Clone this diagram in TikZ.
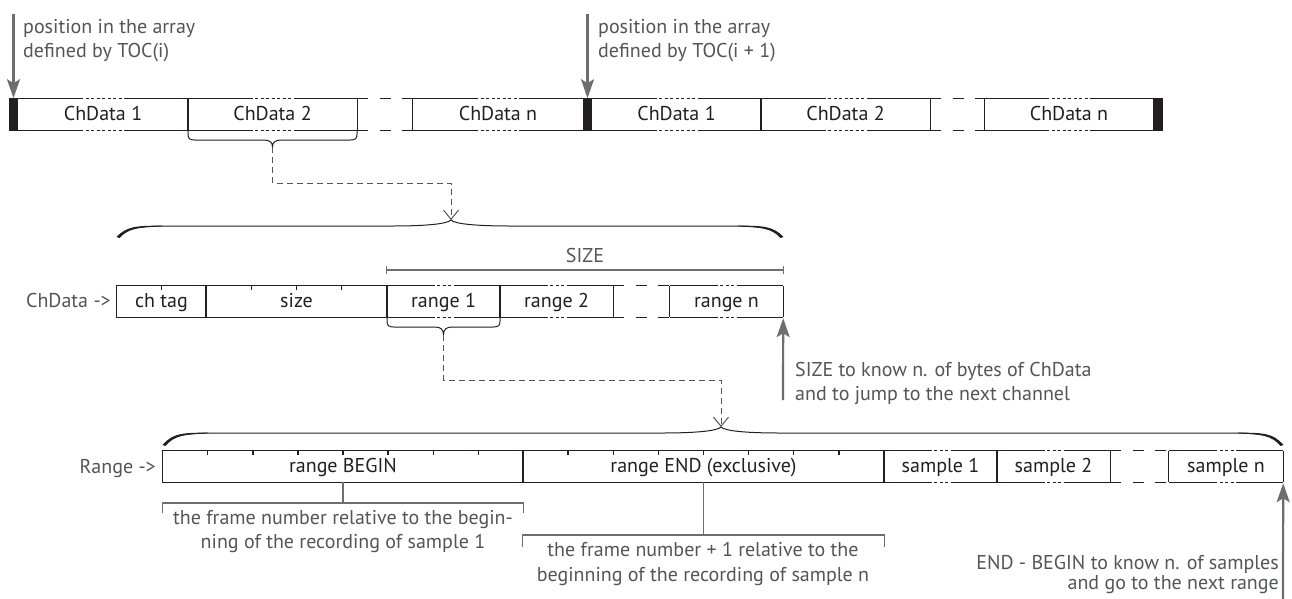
\documentclass[tikz,border=0pt]{standalone}
\usepackage{fontspec}
\setmainfont{PT Sans}
\usetikzlibrary{arrows.meta,calc}
\definecolor{ink}{HTML}{231F20}
\definecolor{txtgray}{HTML}{545557}
\definecolor{lngray}{HTML}{6D6E71}

\newcommand\dcell[2]{%
  \draw[border] (#1.north west) -- ([xshift=-#2pt]#1.north) ([xshift=#2pt]#1.north) -- (#1.north east)
    (#1.south west) -- ([xshift=-#2pt]#1.south) ([xshift=#2pt]#1.south) -- (#1.south east)
    (#1.north west) -- (#1.south west) (#1.north east) -- (#1.south east);
  \draw[border,dotseg] ([xshift=-#2pt]#1.north) -- ([xshift=#2pt]#1.north)
    ([xshift=-#2pt]#1.south) -- ([xshift=#2pt]#1.south);}
\newcommand\scell[1]{\draw[border] (#1.north west) rectangle (#1.south east);}
\newcommand\smallbrace[5]{%
  \draw[brace] (#1,#3) -- (#1,{#4-6}) .. controls (#1,{#4-1.5}) and ({#1+1.5},#4) .. ({#1+7},#4)
   -- ({(#1+#2)/2-9},#4) .. controls ({(#1+#2)/2-3},#4) and ({(#1+#2)/2},{#4+2}) .. ({(#1+#2)/2},#5)
   .. controls ({(#1+#2)/2},{#4+2}) and ({(#1+#2)/2+3},#4) .. ({(#1+#2)/2+9},#4)
   -- ({#2-7},#4) .. controls ({#2-1.5},#4) and (#2,{#4-1.5}) .. (#2,{#4-6}) -- (#2,#3);}
\newcommand\bigbrace[6]{%
  \draw[brace] (#1,#5) .. controls ({#1+10},{#4+1}) and ({#1+25},#4) .. ({#1+60},#4)
   -- ({#3-60},#4) .. controls ({#3-25},#4) and ({#3-4},{#4-2}) .. (#3,#6)
   .. controls ({#3+4},{#4-2}) and ({#3+25},#4) .. ({#3+60},#4)
   -- ({#2-60},#4) .. controls ({#2-25},#4) and ({#2-10},{#4+1}) .. (#2,#5);
  \fill[ink] (#1,#5) .. controls ({#1+9},{#4+0.2}) and ({#1+20},{#4-0.4}) .. ({#1+45},{#4-0.3})
   -- ({#1+45},{#4+0.4}) .. controls ({#1+22},{#4+1}) and ({#1+11},{#4+2.5}) .. ({#1+2.5},{#5+1}) -- cycle;
  \fill[ink] (#2,#5) .. controls ({#2-9},{#4+0.2}) and ({#2-20},{#4-0.4}) .. ({#2-45},{#4-0.3})
   -- ({#2-45},{#4+0.4}) .. controls ({#2-22},{#4+1}) and ({#2-11},{#4+2.5}) .. ({#2-2.5},{#5+1}) -- cycle;}

\begin{document}
\begin{tikzpicture}[x=1pt,y=-1pt,
  cell/.style={rectangle, inner sep=0pt, minimum height=31pt, text=ink,
    font=\fontsize{20}{24}\selectfont, text height=15pt, text depth=3pt},
  border/.style={draw=ink, line width=1.2pt},
  dotseg/.style={dash pattern=on 3pt off 2.5pt},
  gapdash/.style={dash pattern=on 11pt off 11.5pt},
  blk/.style={fill=ink, inner sep=0pt, minimum width=9pt, minimum height=32.2pt},
  lbl/.style={text=txtgray, inner sep=0pt, font=\fontsize{20}{24}\selectfont},
  garrow/.style={draw=lngray, line width=2.2pt, -{Stealth[length=19pt,width=13pt,inset=4pt]}},
  conn/.style={draw=txtgray, line width=1pt, dash pattern=on 6pt off 4pt, -{Straight Barb[length=9pt,width=15pt]}},
  brace/.style={draw=ink, line width=1pt},
  bracket/.style={draw=lngray, line width=1.2pt},
  tick/.style={draw=ink, line width=1.2pt},
]
\fill[white] (0,0) rectangle (1292,598);
\useasboundingbox (0,0) rectangle (1292,598);

% ---------- top row ----------
\node[blk] (k1) at (13.5,114.5) {};
\node[cell, minimum width=170pt] (a1) at (103,114.5) {ChData 1};
\node[cell, minimum width=169pt] (a2) at (272.5,114.5) {ChData 2};
\node[cell, minimum width=170pt] (an) at (498,114.5) {ChData n};
\node[blk] (k2) at (587.5,114.5) {};
\node[cell, minimum width=169pt] (b1) at (676.5,114.5) {ChData 1};
\node[cell, minimum width=169pt] (b2) at (845.5,114.5) {ChData 2};
\node[cell, minimum width=168pt] (bn) at (1069,114.5) {ChData n};
\node[blk, minimum width=10pt] (k3) at (1158,114.5) {};
\dcell{a1}{23}\dcell{a2}{23}\dcell{an}{23}\dcell{b1}{23}\dcell{b2}{23}\dcell{bn}{23}
\draw[border,gapdash] (a2.north east) -- (an.north west) (a2.south east) -- (an.south west);
\draw[border,gapdash] (b2.north east) -- (bn.north west) (b2.south east) -- (bn.south west);

\coordinate (p1) at (13.5,14);
\coordinate (p2) at (587.5,14);
\draw[garrow] (p1) -- (k1.north);
\draw[garrow] (p2) -- (k2.north);
\node[lbl, anchor=base west] (t1a) at (23,33) {position in the array};
\node[lbl, anchor=base west] (t1b) at (23,57) {defined by TOC(i)};
\node[lbl, anchor=base west] (t2a) at (598,33) {position in the array};
\node[lbl, anchor=base west] (t2b) at (598,57) {defined by TOC(i + 1)};

% ---------- brace + connector 1 ----------
\smallbrace{188}{357}{130}{140}{147}
\coordinate (st1) at (272.5,147);
\bigbrace{117}{783}{451}{226}{237}{220}
\coordinate (bt1) at (451,220);
\coordinate (m1) at (451,183);
\draw[conn] (st1) |- (m1) -- (bt1);

% ---------- middle row ----------
\node[lbl, anchor=base east] (lc) at (111,307) {ChData ->};
\node[cell, minimum width=89pt] (ct) at (161.5,301.5) {ch tag};
\node[cell, minimum width=181pt] (sz) at (296.5,301.5) {size};
\node[cell, minimum width=113pt] (r1) at (443.5,301.5) {range 1};
\node[cell, minimum width=113pt] (r2) at (556.5,301.5) {range 2};
\node[cell, minimum width=113pt] (rn) at (726.5,301.5) {range n};
\scell{ct}\scell{sz}
\dcell{r1}{12}\dcell{r2}{12}\dcell{rn}{12}
\draw[border,gapdash] (r2.north east) -- (rn.north west) (r2.south east) -- (rn.south west);
\draw[tick] (ct.north) -- ++(0,4);
\foreach \i in {1,2,3} \draw[tick] ($(sz.north west)!\i/4!(sz.north east)$) -- ++(0,4);

% SIZE dimension
\coordinate (szy) at (0,270);
\draw[bracket] (r1.north west |- szy) -- (rn.north east |- szy);
\draw[bracket] (r1.north west |- szy) ++(0,-4) -- ++(0,8);
\draw[bracket] (rn.north east |- szy) ++(0,-4) -- ++(0,8);
\node[lbl, anchor=base] (szl) at (585,262) {SIZE};

% up arrow 1
\coordinate (u1) at (783,400);
\draw[garrow, shorten >=1pt] (u1) -- (rn.south east);
\node[lbl, anchor=base west] (u1a) at (795,376) {SIZE to know n. of bytes of ChData};
\node[lbl, anchor=base west] (u1b) at (795,400) {and to jump to the next channel};

% ---------- brace + connector 2 ----------
\smallbrace{387}{500}{317}{327}{335}
\coordinate (st2) at (443.5,335);
\bigbrace{163}{1283}{721}{433}{445}{427}
\coordinate (bt2) at (721,427);
\coordinate (m2) at (721,380);
\draw[conn] (st2) |- (m2) -- (bt2);

% ---------- bottom row ----------
\node[lbl, anchor=base east] (lr) at (156,473) {Range ->};
\node[cell, minimum width=360pt] (rb) at (343,466.5) {range BEGIN};
\node[cell, minimum width=361pt] (re) at (703.5,466.5) {range END (exclusive)};
\node[cell, minimum width=113pt] (s1) at (940.5,466.5) {sample 1};
\node[cell, minimum width=113pt] (s2) at (1053.5,466.5) {sample 2};
\node[cell, minimum width=114pt] (sn) at (1226,466.5) {sample n};
\scell{rb}\scell{re}
\dcell{s1}{12}\dcell{s2}{12}\dcell{sn}{12}
\draw[border,gapdash] (s2.north east) -- (sn.north west) (s2.south east) -- (sn.south west);
\foreach \i in {1,...,7} {
  \draw[tick] ($(rb.north west)!\i/8!(rb.north east)$) -- ++(0,4);
  \draw[tick] ($(re.north west)!\i/8!(re.north east)$) -- ++(0,4);}

% brackets
\coordinate (by) at (0,503);
\draw[bracket] (rb.south) -- (rb.south |- by);
\draw[bracket] (rb.south west |- by) ++(0,10) -- ++(0,-10) -- (rb.south east |- by) -- ++(0,10);
\node[lbl, anchor=base] (bg1) at (343,524) {the frame number relative to the begin-};
\node[lbl, anchor=base] (bg2) at (343,548) {ning of the recording of sample 1};
\coordinate (ey) at (0,535);
\draw[bracket] (re.south) -- (re.south |- ey);
\draw[bracket] (re.south west |- ey) ++(0,12) -- ++(0,-12) -- (re.south east |- ey) -- ++(0,12);
\node[lbl, anchor=base] (en1) at (703,556) {the frame number + 1 relative to the};
\node[lbl, anchor=base] (en2) at (703,581) {beginning of the recording of sample n};

% up arrow 2
\coordinate (u2) at (1283,600);
\draw[garrow, shorten >=1pt] (u2) -- (sn.south east);
\node[lbl, anchor=base east] (u2a) at (1279,569) {END - BEGIN to know n. of samples};
\node[lbl, anchor=base east] (u2b) at (1279,589) {and go to the next range};
\end{tikzpicture}
\end{document}
